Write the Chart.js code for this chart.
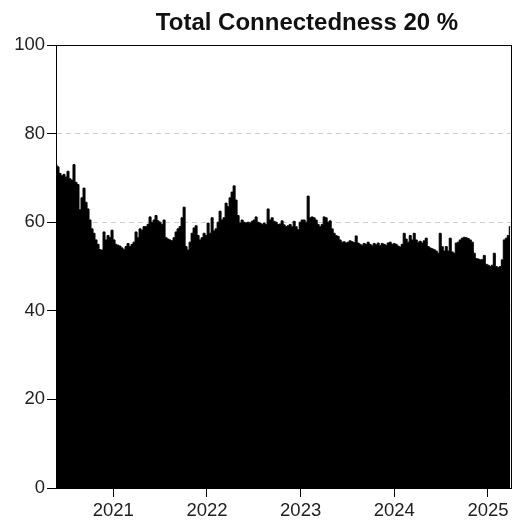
<!DOCTYPE html>
<html>
<head>
<meta charset="utf-8">
<script src="https://cdn.jsdelivr.net/npm/chart.js@4/dist/chart.umd.min.js"></script>
<style>
  html, body { margin: 0; padding: 0; background: #ffffff; }
  #wrap { width: 514px; height: 525px; }
</style>
</head>
<body>
<div id="wrap"><canvas id="c" width="514" height="525"></canvas></div>
<script>
const chartTitle = 'Total Connectedness 20 %';
const yearTicks = [2021, 2022, 2023, 2024, 2025];
const valueTicks = [0, 20, 40, 60, 80, 100];

// observation dates as decimal years
const dates = [
  2020.388, 2020.409, 2020.431, 2020.452, 2020.473, 2020.495, 2020.516, 2020.538, 2020.559, 2020.580,
  2020.602, 2020.623, 2020.644, 2020.666, 2020.687, 2020.709, 2020.730, 2020.751, 2020.773, 2020.794,
  2020.815, 2020.837, 2020.858, 2020.879, 2020.901, 2020.922, 2020.944, 2020.965, 2020.986, 2021.008,
  2021.029, 2021.050, 2021.072, 2021.093, 2021.115, 2021.136, 2021.157, 2021.179, 2021.200, 2021.221,
  2021.243, 2021.264, 2021.285, 2021.307, 2021.328, 2021.350, 2021.371, 2021.392, 2021.414, 2021.435,
  2021.456, 2021.478, 2021.499, 2021.521, 2021.542, 2021.563, 2021.585, 2021.606, 2021.627, 2021.649,
  2021.670, 2021.691, 2021.713, 2021.734, 2021.756, 2021.777, 2021.798, 2021.820, 2021.841, 2021.862,
  2021.884, 2021.905, 2021.926, 2021.948, 2021.969, 2021.991, 2022.012, 2022.033, 2022.055, 2022.076,
  2022.097, 2022.119, 2022.140, 2022.161, 2022.183, 2022.204, 2022.225, 2022.247, 2022.268, 2022.290,
  2022.311, 2022.332, 2022.354, 2022.375, 2022.397, 2022.418, 2022.439, 2022.461, 2022.482, 2022.503,
  2022.525, 2022.546, 2022.567, 2022.589, 2022.610, 2022.631, 2022.653, 2022.674, 2022.696, 2022.717,
  2022.738, 2022.760, 2022.781, 2022.802, 2022.824, 2022.845, 2022.867, 2022.888, 2022.909, 2022.931,
  2022.952, 2022.973, 2022.995, 2023.016, 2023.037, 2023.059, 2023.080, 2023.102, 2023.123, 2023.144,
  2023.166, 2023.187, 2023.208, 2023.230, 2023.251, 2023.272, 2023.294, 2023.315, 2023.337, 2023.358,
  2023.379, 2023.400, 2023.422, 2023.443, 2023.465, 2023.486, 2023.507, 2023.529, 2023.550, 2023.572,
  2023.593, 2023.614, 2023.636, 2023.657, 2023.678, 2023.700, 2023.721, 2023.742, 2023.764, 2023.785,
  2023.807, 2023.828, 2023.849, 2023.871, 2023.892, 2023.913, 2023.935, 2023.956, 2023.978, 2023.999,
  2024.020, 2024.042, 2024.063, 2024.084, 2024.106, 2024.127, 2024.148, 2024.170, 2024.191, 2024.213,
  2024.234, 2024.255, 2024.277, 2024.298, 2024.319, 2024.341, 2024.362, 2024.384, 2024.405, 2024.426,
  2024.448, 2024.469, 2024.490, 2024.512, 2024.533, 2024.555, 2024.576, 2024.597, 2024.619, 2024.640,
  2024.662, 2024.683, 2024.704, 2024.726, 2024.747, 2024.768, 2024.790, 2024.811, 2024.833, 2024.854,
  2024.875, 2024.897, 2024.918, 2024.939, 2024.961, 2024.982, 2025.004, 2025.025, 2025.046, 2025.068,
  2025.089, 2025.110, 2025.132, 2025.153, 2025.174, 2025.196, 2025.217, 2025.238
];

// total connectedness index, percent
const connectedness = [
  73, 72.5, 71, 70.5, 70.8, 70.2, 71.5, 69.8, 69.5, 73,
  69, 68.5, 62.8, 65.5, 67.7, 64.5, 63, 60.5, 58.5, 57.5,
  56, 55, 53.8, 53.7, 57.8, 56, 57, 56.5, 58.2, 56,
  55, 54.8, 54.6, 54.2, 53.8, 54.5, 55.2, 54.5, 55, 55.5,
  57.8, 56.5, 58.5, 58.2, 59, 59, 59.5, 61.2, 60, 60.5,
  61.5, 60.3, 60, 59.5, 60.5, 56.5, 56.2, 56, 55.8, 56.5,
  57.8, 58.5, 59, 61, 63.4, 54.5, 53.7, 55.5, 57.5, 58.7,
  59.2, 57, 56, 56.5, 57.5, 57, 59.8, 57.5, 61, 58,
  58.5, 60, 62.5, 60.5, 61, 64.3, 63.5, 65.5, 66.8, 68.2,
  65, 61.5, 59.8, 60.5, 60, 59.8, 60, 59.8, 60.2, 60.5,
  61.2, 60, 59.8, 59.5, 59.8, 59.5, 63, 60.5, 61, 60.2,
  60, 59.5, 59.6, 60.3, 59.4, 59, 59.2, 59.5, 59, 60.2,
  59, 58.3, 60, 60.5, 60.5, 60, 65.9, 61, 61.2, 61,
  60.5, 59.5, 59, 59.5, 61.2, 61, 60, 60.3, 58.5, 57.5,
  57, 56.8, 56, 55.5, 55.6, 55.3, 55.5, 55.8, 55.6, 55.4,
  56.9, 55.3, 55, 54.8, 55.2, 55, 55.5, 55, 54.7, 55.2,
  54.9, 55.3, 54.7, 55.2, 55, 54.8, 55.3, 55.5, 55, 55.2,
  55, 54.6, 54.4, 55, 57.5, 56.2, 55.5, 57, 56, 57.5,
  56, 55.5, 55.7, 55.3, 55.8, 56.4, 54.5, 54.2, 54, 53.8,
  53.5, 53, 57.5, 54.5, 53.5, 54.5, 53.5, 56.4, 53.3, 53,
  55.3, 55.5, 56, 56.4, 56.6, 56.5, 56.3, 56, 55.5, 53,
  51.8, 51.7, 51.5, 51.6, 52.5, 50.5, 50.3, 50, 50.3, 53,
  50, 49.8, 50, 51.5, 56, 56.4, 57, 59
];

const points = dates.map((d, i) => ({ x: d, y: connectedness[i] }));

const FONT = '"Liberation Sans", Arial, Helvetica, sans-serif';

// outer box around the plotting region plus the heading
const framePlugin = {
  id: 'frame',
  afterDraw(chart) {
    const { ctx, chartArea: a } = chart;
    ctx.save();
    ctx.strokeStyle = '#000';
    ctx.lineWidth = 1;
    ctx.strokeRect(Math.round(a.left) + 0.5, Math.round(a.top) + 0.5,
                   Math.round(a.right - a.left), Math.round(a.bottom - a.top));
    ctx.fillStyle = '#111';
    ctx.font = 'bold 24px ' + FONT;
    ctx.textAlign = 'center';
    ctx.textBaseline = 'alphabetic';
    ctx.fillText(chartTitle, 307, 30);
    ctx.restore();
  }
};

new Chart(document.getElementById('c'), {
  type: 'line',
  data: {
    datasets: [{
      data: points,
      borderColor: '#000',
      backgroundColor: '#000',
      borderWidth: 1,
      fill: 'origin',
      pointRadius: 0,
      stepped: 'middle'
    }]
  },
  options: {
    responsive: false,
    animation: false,
    events: [],
    layout: { padding: { top: 45, right: 3, left: 0, bottom: 0 } },
    plugins: { legend: { display: false }, tooltip: { enabled: false }, title: { display: false } },
    scales: {
      x: {
        type: 'linear',
        min: dates[0],
        max: 2025.246,
        afterBuildTicks: (s) => { s.ticks = yearTicks.map(v => ({ value: v })); },
        afterFit: (s) => { s.height = 37; },
        grid: { drawOnChartArea: false, tickLength: 9, tickColor: '#000', tickWidth: 1 },
        border: { display: true, color: '#000', width: 1 },
        ticks: {
          autoSkip: false, maxRotation: 0, padding: 3,
          color: '#222', font: { family: FONT, size: 18.5 },
          callback: (v) => String(v)
        }
      },
      y: {
        min: 0,
        max: 100,
        afterBuildTicks: (s) => { s.ticks = valueTicks.map(v => ({ value: v })); },
        afterFit: (s) => { s.width = 56; },
        grid: {
          drawOnChartArea: true,
          color: (c) => (c.tick && (c.tick.value === 0 || c.tick.value === 100)) ? 'rgba(0,0,0,0)' : '#cccccc',
          lineWidth: 1,
          tickLength: 9, tickColor: '#000', tickWidth: 1
        },
        border: { display: true, color: '#000', width: 1, dash: [5, 4] },
        ticks: {
          autoSkip: false, padding: 2,
          color: '#222', font: { family: FONT, size: 18.5 },
          callback: (v) => String(v)
        }
      }
    }
  },
  plugins: [framePlugin]
});
</script>
</body>
</html>
